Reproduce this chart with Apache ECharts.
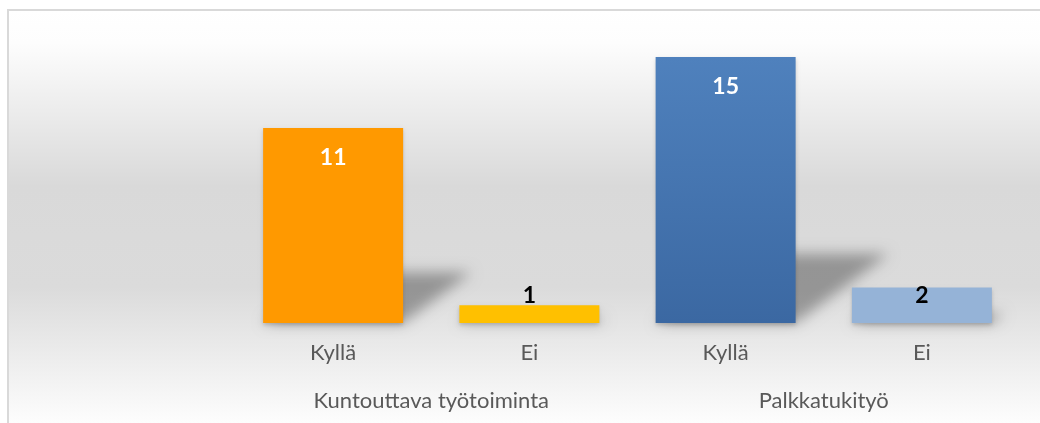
<!DOCTYPE html>
<html>
<head>
<meta charset="utf-8">
<script src="https://cdn.jsdelivr.net/npm/echarts@6/dist/echarts.min.js"></script>
<style>
  html, body { margin: 0; padding: 0; background: #fff; }
  #chart { width: 1040px; height: 423px; }
</style>
</head>
<body>
<div id="chart"></div>
<script>
// data
var answers = ["Kyllä", "Ei", "Kyllä", "Ei"];
var groups = ["Kuntouttava työtoiminta", "Palkkatukityö"];
var counts = [11, 1, 15, 2];

// colours for each bar
var barColors = [
    "#ff9900",
    "#ffc000",
    new echarts.graphic.LinearGradient(0, 0, 0, 1, [
        { offset: 0, color: "#4f81bd" },
        { offset: 1, color: "#3b68a2" }
    ]),
    "#95b3d7"
];

var fontName = "Lato, 'Open Sans', sans-serif";
var myChart = echarts.init(document.getElementById("chart"));

// bars with label placed inside top (tall) or low (short)
var barData = counts.map(function (v, i) {
    var small = v < 3;
    return {
        value: v,
        itemStyle: { color: barColors[i] },
        label: {
            position: small ? "insideBottom" : "insideTop",
            distance: small ? 16 : 18,
            color: small ? "#000" : "#fff"
        }
    };
});

// shadow cast by each bar (only the blurred shadow is visible)
function renderShadow(params, api) {
    var top = api.coord([api.value(0), api.value(1)]);
    var base = api.coord([api.value(0), 0]);
    var h = base[1] - top[1];
    var half = 70;
    var dx = h * 0.35, dy = h * 0.26;
    var off = 3000;
    return {
        type: "polygon",
        silent: true,
        shape: {
            points: [
                [base[0] - half - off, base[1]],
                [base[0] + half - off, base[1]],
                [base[0] + half + dx - off, base[1] - dy],
                [base[0] - half + dx - off, base[1] - dy]
            ]
        },
        style: {
            fill: "#000",
            shadowBlur: 14,
            shadowColor: "rgba(0,0,0,0.32)",
            shadowOffsetX: off
        }
    };
}

var option = {
    animation: false,
    backgroundColor: "#fff",
    graphic: [{
        type: "rect",
        z: -10,
        silent: true,
        shape: { x: 8, y: 10, width: 1040, height: 420 },
        style: {
            stroke: "#d9d9d9",
            lineWidth: 2,
            fill: new echarts.graphic.LinearGradient(0, 0, 0, 1, [
                { offset: 0, color: "#ffffff" },
                { offset: 0.08, color: "#fdfdfd" },
                { offset: 0.42, color: "#d9d9d9" },
                { offset: 0.66, color: "#dbdbdb" },
                { offset: 1, color: "#ffffff" }
            ])
        }
    }],
    grid: { left: 235, right: 20, top: 57, bottom: 100 },
    xAxis: [{
        type: "category",
        data: answers,
        axisLine: { show: false },
        axisTick: { show: false },
        axisLabel: { color: "#595959", fontSize: 22, fontFamily: fontName, margin: 19 }
    }, {
        type: "category",
        position: "bottom",
        offset: 48,
        data: groups,
        axisLine: { show: false },
        axisTick: { show: false },
        axisLabel: { color: "#595959", fontSize: 22, fontFamily: fontName, margin: 19 }
    }],
    yAxis: {
        type: "value",
        min: 0,
        max: 15,
        show: false,
        splitLine: { show: false }
    },
    series: [{
        type: "custom",
        renderItem: renderShadow,
        silent: true,
        z: 1,
        data: counts.map(function (v, i) { return [i, v]; }),
        encode: { x: 0, y: 1 }
    }, {
        type: "bar",
        barWidth: 140,
        z: 3,
        data: barData,
        itemStyle: {
            shadowColor: "rgba(0,0,0,0.18)",
            shadowBlur: 4,
            shadowOffsetY: 2
        },
        label: {
            show: true,
            fontSize: 23,
            fontWeight: "bold",
            fontFamily: fontName
        }
    }]
};
myChart.setOption(option);
</script>
</body>
</html>
